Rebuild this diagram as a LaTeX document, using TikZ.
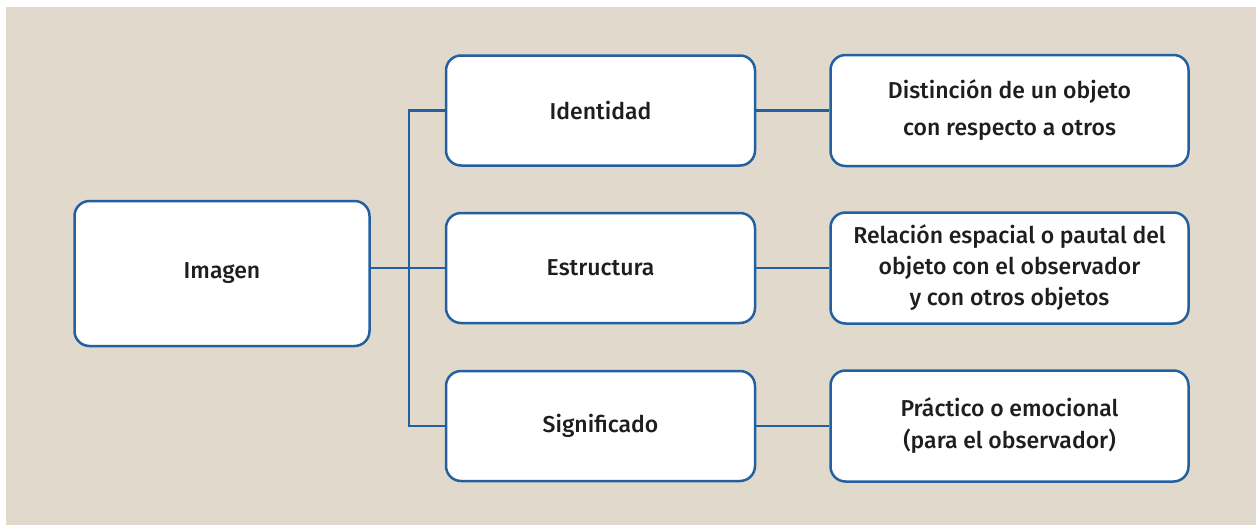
\documentclass[tikz,border=0pt]{standalone}
\usepackage{fontspec}
\setmainfont{Fira Sans}[UprightFont={* Medium}]
\usetikzlibrary{positioning}
\definecolor{boxblue}{HTML}{22609F}
\definecolor{paper}{HTML}{E2D9CD}
\definecolor{ink}{HTML}{1E1E1C}
\tikzset{
    card/.style={draw=boxblue, line width=2.5pt, fill=white, rounded corners=15pt,
        align=center, text=ink, font=\fontsize{23}{31}\selectfont, inner sep=0pt},
    link/.style={draw=boxblue, line width=2.2pt}
}

\begin{document}
\begin{tikzpicture}[x=1pt,y=1pt]
            \useasboundingbox (0,0) rectangle (1256,-525);
            \fill[paper] (6,-7) rectangle (1256,-525);
            % left
            \node[card, minimum width=295pt, minimum height=145pt] (img) at (222,-273.5) {Imagen};
            % middle column
            \node[card, minimum width=309pt, minimum height=110pt] (ident) at (600.5,-110.5) {Identidad};
            \node[card, minimum width=309pt, minimum height=110pt] (estr) at (600.5,-268) {Estructura};
            \node[card, minimum width=309pt, minimum height=110pt] (signif) at (600.5,-426) {Significado};
            % right column
            \node[card, minimum width=358pt, minimum height=111pt, font=\fontsize{23}{37}\selectfont] (dist) at (1009.5,-110.5) {Distinción de un objeto\\con respecto a otros};
            \node[card, minimum width=358pt, minimum height=111pt] (rel) at (1009.5,-268) {Relación espacial o pautal del\\objeto con el observador\\y con otros objetos};
            \node[card, minimum width=358pt, minimum height=111pt, font=\fontsize{23}{32}\selectfont] (prac) at (1009.5,-426) {Práctico o emocional\\(para el observador)};
            \coordinate (split) at (409,-268);
            \draw[link] (img.east |- estr.west) -- (estr.west);
            \draw[link] (ident.west) -| (split) |- (signif.west);
            \draw[link] (ident) -- (dist);
            \draw[link] (estr) -- (rel);
            \draw[link] (signif) -- (prac);
        \end{tikzpicture}
\end{document}
